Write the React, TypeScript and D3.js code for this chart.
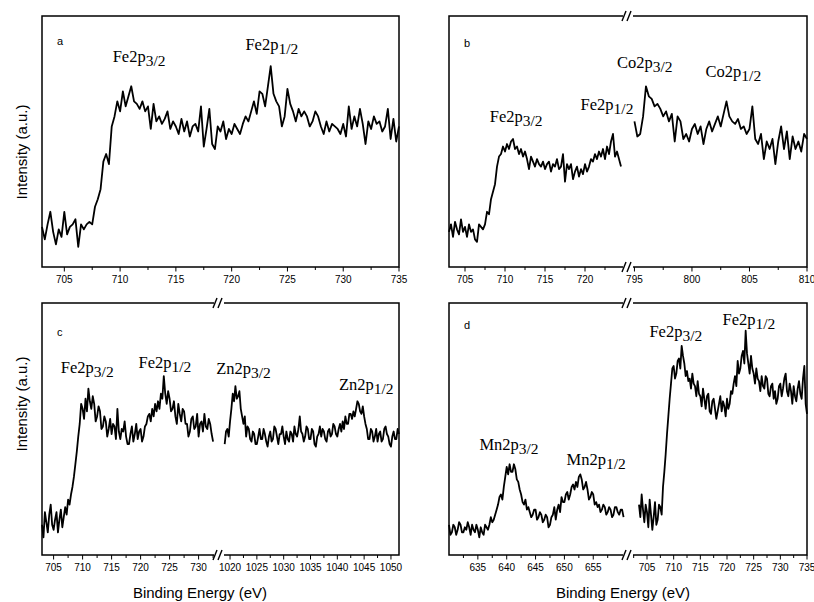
import * as d3 from 'd3';

// intensities in % of the panel height (no y scale in the original)

// panel a, Fe 2p
const aFeStart = 703;
const aFeStep = 0.25;
const aFe = [
  16, 11, 17, 22, 14, 9, 15, 12, 22, 13, 16, 17, 19, 8, 17, 15,
  17, 18, 17, 24, 27, 31, 42, 45, 41, 56, 60, 66, 62, 70, 64, 68,
  72, 66, 65, 63, 66, 62, 64, 55, 65, 58, 60, 57, 59, 62, 55, 58,
  56, 53, 59, 54, 58, 52, 56, 57, 54, 64, 48, 55, 63, 49, 47, 56,
  54, 58, 51, 55, 53, 57, 55, 53, 57, 60, 58, 62, 66, 61, 70, 69,
  64, 72, 80, 69, 66, 64, 56, 60, 71, 65, 62, 58, 63, 60, 62, 60,
  56, 58, 62, 60, 56, 53, 58, 54, 57, 56, 55, 53, 57, 52, 64, 55,
  60, 56, 63, 57, 49, 58, 55, 60, 57, 58, 54, 56, 63, 51, 59, 50, 56
];

// panel b, Fe 2p + Co 2p
const bFeStart = 703;
const bFeStep = 0.25;
const bFe = [
  14, 17, 12, 18, 15, 13, 19, 14, 16, 12, 17, 14, 15, 11, 10, 17,
  16, 15, 17, 22, 21, 27, 30, 33, 40, 44, 45, 48, 46, 49, 47, 50,
  51, 47, 48, 45, 47, 44, 46, 43, 39, 44, 42, 40, 43, 41, 40, 42,
  39, 41, 42, 38, 41, 40, 43, 39, 40, 45, 34, 41, 39, 41, 35, 38,
  40, 36, 39, 37, 41, 38, 40, 43, 42, 45, 43, 46, 44, 47, 43, 48,
  45, 50, 53, 44, 46, 43, 40
];
const bCoStart = 795;
const bCoStep = 0.25;
const bCo = [
  58, 52, 53, 60, 72, 68, 67, 64, 65, 63, 60, 62, 58, 61, 50, 60,
  58, 51, 53, 50, 55, 57, 53, 56, 49, 55, 58, 54, 57, 60, 56, 61,
  66, 60, 58, 57, 59, 55, 56, 53, 55, 64, 51, 49, 53, 43, 50, 47,
  51, 41, 50, 56, 47, 54, 43, 52, 47, 50, 46, 53, 51
];

// panel c, Fe 2p + Zn 2p
const cFeStart = 703;
const cFeStep = 0.25;
const cFe = [
  12, 7, 17, 13, 9, 16, 20, 12, 10, 14, 17, 9, 14, 18, 11, 15,
  19, 16, 22, 20, 24, 27, 31, 36, 41, 47, 52, 60, 58, 54, 62, 57,
  66, 61, 58, 63, 60, 53, 55, 59, 57, 50, 51, 55, 53, 47, 50, 54,
  48, 52, 51, 46, 58, 49, 46, 50, 49, 53, 47, 44, 44, 48, 51, 45,
  48, 52, 46, 49, 50, 45, 47, 51, 52, 55, 56, 53, 58, 55, 60, 57,
  61, 58, 64, 62, 71, 64, 60, 65, 62, 57, 58, 61, 55, 52, 60, 56,
  53, 58, 57, 52, 52, 47, 49, 54, 55, 50, 51, 56, 47, 52, 53, 49,
  56, 51, 50, 54, 52, 48, 45
];
const cZnStart = 1019;
const cZnStep = 0.25;
const cZn = [
  44, 49, 50, 47, 53, 58, 64, 61, 67, 62, 63, 65, 58, 55, 52, 55,
  47, 51, 50, 46, 45, 49, 48, 44, 44, 47, 50, 46, 46, 50, 48, 45,
  43, 47, 49, 45, 46, 51, 50, 47, 44, 48, 48, 51, 47, 44, 49, 46,
  45, 49, 48, 45, 51, 48, 47, 50, 55, 49, 48, 45, 47, 51, 50, 46,
  46, 50, 49, 44, 43, 47, 48, 51, 47, 50, 49, 46, 45, 49, 50, 47,
  48, 52, 51, 48, 47, 50, 52, 49, 53, 50, 55, 52, 52, 56, 56, 54,
  57, 55, 58, 61, 60, 57, 56, 59, 55, 52, 50, 46, 46, 50, 49, 45,
  47, 50, 45, 48, 49, 45, 46, 50, 51, 48, 47, 44, 43, 47, 49, 46,
  46, 50, 48
];

// panel d, Mn 2p + Fe 2p
const dMnStart = 630;
const dMnStep = 0.25;
const dMn = [
  12, 8, 9, 12, 11, 8, 10, 13, 12, 9, 9, 11, 10, 13, 11, 8,
  12, 10, 9, 12, 10, 7, 11, 9, 8, 12, 11, 10, 12, 15, 13, 14,
  16, 18, 20, 23, 24, 22, 27, 31, 35, 32, 36, 33, 33, 36, 34, 30,
  29, 26, 24, 21, 20, 22, 18, 19, 17, 15, 16, 18, 18, 14, 15, 17,
  16, 13, 14, 16, 15, 11, 12, 15, 16, 19, 14, 18, 20, 17, 23, 21,
  21, 24, 25, 22, 24, 27, 28, 26, 29, 27, 31, 32, 30, 26, 27, 29,
  26, 22, 23, 25, 24, 20, 21, 19, 20, 17, 18, 20, 19, 16, 17, 19,
  18, 15, 16, 19, 19, 17, 16, 18, 18, 15
];
const dFeStart = 703.5;
const dFeStep = 0.25;
const dFe = [
  20, 15, 24, 18, 13, 20, 17, 11, 22, 16, 10, 15, 21, 12, 14, 20,
  19, 16, 27, 33, 40, 48, 55, 62, 68, 74, 75, 70, 72, 77, 78, 74,
  83, 79, 76, 71, 73, 69, 70, 66, 72, 68, 67, 63, 69, 64, 63, 59,
  66, 62, 58, 63, 64, 57, 56, 61, 62, 58, 54, 57, 60, 63, 57, 61,
  59, 55, 62, 58, 60, 65, 64, 68, 71, 67, 77, 72, 74, 79, 81, 76,
  89, 80, 76, 72, 79, 74, 72, 68, 74, 70, 69, 65, 71, 67, 66, 71,
  70, 64, 63, 67, 68, 62, 65, 60, 62, 67, 68, 63, 66, 70, 72, 65,
  63, 68, 65, 60, 67, 63, 61, 66, 69, 64, 62, 70, 75, 60, 56
];

// axis ticks (eV)
const ticksA = [705, 710, 715, 720, 725, 730, 735];
const ticksBFe = [705, 710, 715, 720];
const ticksBCo = [795, 800, 805, 810];
const ticksCFe = [705, 710, 715, 720, 725, 730];
const ticksCZn = [1020, 1025, 1030, 1035, 1040, 1045, 1050];
const ticksDMn = [635, 640, 645, 650, 655];
const ticksDFe = [705, 710, 715, 720, 725, 730, 735];

const SERIF = "'Liberation Serif', 'Times New Roman', serif";
const SANS = "'Liberation Sans', Arial, sans-serif";

type Series = { start: number; step: number; values: number[] };
type Segment = { domain: [number, number]; range: [number, number]; ticks: number[]; series: Series };
type Peak = { main: string; sub: string; seg: number; e: number; v: number };
type PanelCfg = {
  letter: string;
  letterDy: number;
  top: number;
  bottom: number;
  segments: Segment[];
  peaks: Peak[];
  yLabelY?: number;
  xLabelX?: number;
};

const panels: PanelCfg[] = [
  {
    letter: 'a', letterDy: 29, top: 16, bottom: 267, yLabelY: 152,
    segments: [
      { domain: [703, 735], range: [42, 399], ticks: ticksA, series: { start: aFeStart, step: aFeStep, values: aFe } },
    ],
    peaks: [
      { main: 'Fe2p', sub: '3/2', seg: 0, e: 711.7, v: 81.7 },
      { main: 'Fe2p', sub: '1/2', seg: 0, e: 723.6, v: 86.5 },
    ],
  },
  {
    letter: 'b', letterDy: 31, top: 16, bottom: 267,
    segments: [
      { domain: [703, 725], range: [449, 625], ticks: ticksBFe, series: { start: bFeStart, step: bFeStep, values: bFe } },
      { domain: [794.7, 810], range: [631, 807], ticks: ticksBCo, series: { start: bCoStart, step: bCoStep, values: bCo } },
    ],
    peaks: [
      { main: 'Fe2p', sub: '3/2', seg: 0, e: 711.4, v: 57.8 },
      { main: 'Fe2p', sub: '1/2', seg: 0, e: 722.75, v: 62.5 },
      { main: 'Co2p', sub: '3/2', seg: 1, e: 795.9, v: 79.3 },
      { main: 'Co2p', sub: '1/2', seg: 1, e: 803.6, v: 75.7 },
    ],
  },
  {
    letter: 'c', letterDy: 33, top: 303, bottom: 555, yLabelY: 404, xLabelX: 200,
    segments: [
      { domain: [703, 733], range: [42, 216], ticks: ticksCFe, series: { start: cFeStart, step: cFeStep, values: cFe } },
      { domain: [1018.5, 1051.5], range: [222, 399], ticks: ticksCZn, series: { start: cZnStart, step: cZnStep, values: cZn } },
    ],
    peaks: [
      { main: 'Fe2p', sub: '3/2', seg: 0, e: 710.8, v: 72.2 },
      { main: 'Fe2p', sub: '1/2', seg: 0, e: 724.2, v: 74.2 },
      { main: 'Zn2p', sub: '3/2', seg: 1, e: 1022.5, v: 71.8 },
      { main: 'Zn2p', sub: '1/2', seg: 1, e: 1045.4, v: 65.5 },
    ],
  },
  {
    letter: 'd', letterDy: 26, top: 303, bottom: 555, xLabelX: 623,
    segments: [
      { domain: [630, 660.5], range: [449, 625], ticks: ticksDMn, series: { start: dMnStart, step: dMnStep, values: dMn } },
      { domain: [702, 735], range: [631, 807], ticks: ticksDFe, series: { start: dFeStart, step: dFeStep, values: dFe } },
    ],
    peaks: [
      { main: 'Mn2p', sub: '3/2', seg: 0, e: 640.4, v: 41.7 },
      { main: 'Mn2p', sub: '1/2', seg: 0, e: 655.5, v: 35.7 },
      { main: 'Fe2p', sub: '3/2', seg: 1, e: 710.4, v: 86.5 },
      { main: 'Fe2p', sub: '1/2', seg: 1, e: 724.1, v: 91.3 },
    ],
  },
];

function BreakMark({ x, y }: { x: number; y: number }) {
  return (
    <g>
      <rect x={x - 5} y={y - 2} width={10} height={4} fill="#fff" />
      <line x1={x - 6} y1={y + 5} x2={x - 2} y2={y - 5} stroke="#000" strokeWidth={1.4} />
      <line x1={x - 1} y1={y + 5} x2={x + 3} y2={y - 5} stroke="#000" strokeWidth={1.4} />
    </g>
  );
}

function Panel({ p }: { p: PanelCfg }) {
  const left = p.segments[0].range[0];
  const right = p.segments[p.segments.length - 1].range[1];
  const y = d3.scaleLinear().domain([0, 100]).range([p.bottom, p.top]);
  const xs = p.segments.map(s => d3.scaleLinear().domain(s.domain).range(s.range));
  const breakX = p.segments.length > 1 ? (p.segments[0].range[1] + p.segments[1].range[0]) / 2 : null;

  return (
    <g>
      {p.segments.map((s, i) => {
        const pts: [number, number][] = s.series.values.map((v, k) => [s.series.start + k * s.series.step, v]);
        const line = d3.line<[number, number]>()
          .x(d => xs[i](d[0]))
          .y(d => y(d[1]));
        return <path key={'l' + i} d={line(pts) || ''} fill="none" stroke="#000" strokeWidth={1.8} strokeLinejoin="round" />;
      })}
      <rect x={left} y={p.top} width={right - left} height={p.bottom - p.top} fill="none" stroke="#000" strokeWidth={1.5} />
      {breakX !== null && <BreakMark x={breakX} y={p.top} />}
      {breakX !== null && <BreakMark x={breakX} y={p.bottom} />}
      {p.segments.map((s, i) => {
        const x = xs[i];
        const minor = s.ticks.flatMap(t => [t - 2.5, t + 2.5])
          .filter((t, k, arr) => t >= s.domain[0] && t <= s.domain[1] && arr.indexOf(t) === k);
        return (
          <g key={'t' + i}>
            {minor.map(t => (
              <line key={'m' + t} x1={x(t)} x2={x(t)} y1={p.bottom} y2={p.bottom + 3} stroke="#000" strokeWidth={1} />
            ))}
            {s.ticks.map(t => (
              <g key={'M' + t}>
                <line x1={x(t)} x2={x(t)} y1={p.bottom} y2={p.bottom + 4.5} stroke="#000" strokeWidth={1} />
                <text x={x(t)} y={p.bottom + 16} textAnchor="middle" fontFamily={SANS} fontSize={10} fill="#000">{t}</text>
              </g>
            ))}
          </g>
        );
      })}
      <text x={left + 15} y={p.top + p.letterDy} fontFamily={SANS} fontSize={11} fill="#000">{p.letter}</text>
      {p.peaks.map((pk, i) => (
        <text key={'p' + i} x={xs[pk.seg](pk.e)} y={y(pk.v)} textAnchor="middle" fontFamily={SERIF} fontSize={16.5} fill="#000">
          {pk.main}
          <tspan dy={4} fontSize={15.5}>{pk.sub}</tspan>
        </text>
      ))}
      {p.yLabelY !== undefined && (
        <text transform={`translate(27,${p.yLabelY}) rotate(-90)`} textAnchor="middle" fontFamily={SANS} fontSize={15} fill="#000">
          Intensity (a.u.)
        </text>
      )}
      {p.xLabelX !== undefined && (
        <text x={p.xLabelX} y={598} textAnchor="middle" fontFamily={SANS} fontSize={15} fill="#000">
          Binding Energy (eV)
        </text>
      )}
    </g>
  );
}

export default function App() {
  return (
    <svg width={814} height={602} style={{ position: 'absolute', left: 0, top: 0, background: '#fff' }}>
      <rect width={814} height={602} fill="#fff" />
      {panels.map(p => <Panel key={p.letter} p={p} />)}
    </svg>
  );
}
